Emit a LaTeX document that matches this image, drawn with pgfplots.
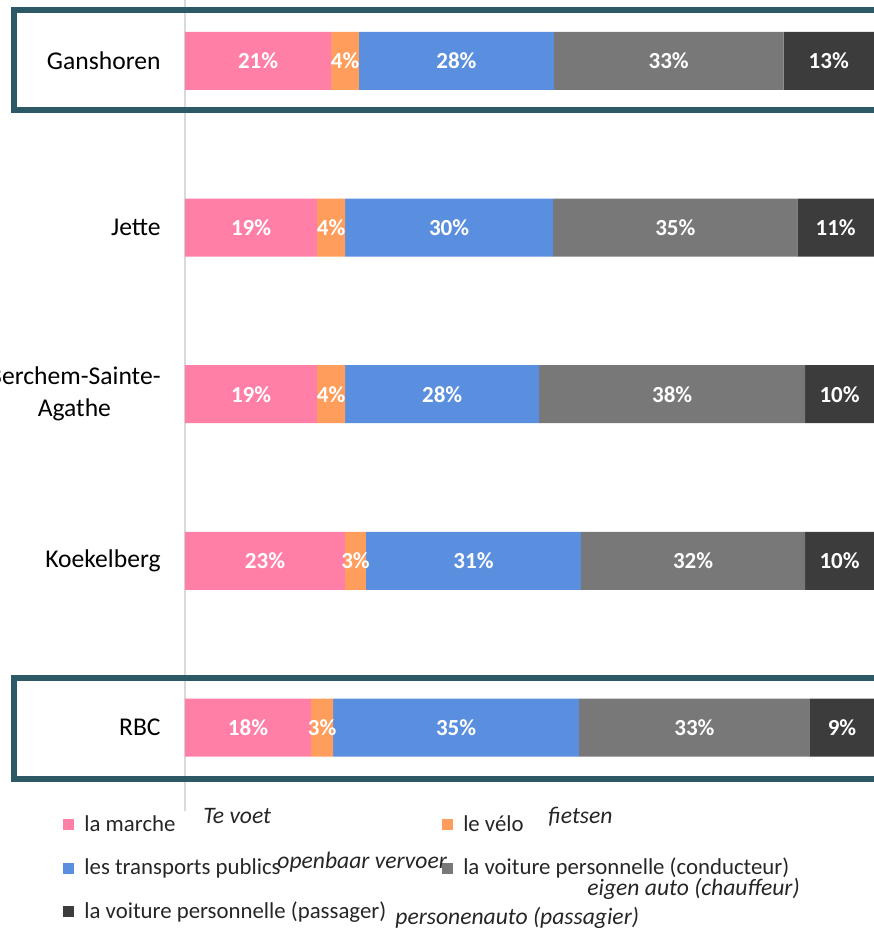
\documentclass[border=0pt]{standalone}
\usepackage{fontspec}
\setmainfont{Carlito}
\usepackage{pgfplots}
\pgfplotsset{compat=1.18}
\definecolor{cWalk}{HTML}{FF7FA7}
\definecolor{cBike}{HTML}{FF9D5C}
\definecolor{cPT}{HTML}{5A8FDF}
\definecolor{cDriver}{HTML}{787878}
\definecolor{cPass}{HTML}{3C3C3C}
\definecolor{cFrame}{HTML}{2D5866}
\definecolor{cAxis}{HTML}{D9D9D9}
\definecolor{cText}{HTML}{262626}

\begin{document}
\begin{tikzpicture}
\useasboundingbox (0,0) rectangle (437pt,472pt);
\begin{axis}[
  at={(92.5pt,66.5pt)}, anchor=south west,
  scale only axis, width=344.5pt, height=405.5pt,
  xbar stacked, bar width=29pt,
  xmin=0, xmax=99, ymin=-0.5, ymax=4.365,
  axis x line=none, axis y line*=left,
  y axis line style={draw=cAxis, line width=1pt, -},
  ytick={0,...,4},
  yticklabels={RBC,Koekelberg,{Berchem-Sainte-\\Agathe},Jette,Ganshoren},
  major tick length=0pt,
  yticklabel style={font=\fontsize{12.8}{16}\selectfont, align=center, inner sep=0pt, xshift=-12pt, text=black},
  visualization depends on={rawx \as \rawx},
  nodes near coords={\pgfmathprintnumber[fixed,precision=0,assume math mode=true]{\rawx}\%},
  every node near coord/.append style={font=\bfseries\fontsize{11.5}{13}\selectfont, text=white, anchor=center},
  every axis plot post/.append style={legend image code/.code={\fill[##1] (0pt,-2.75pt) rectangle (5.5pt,2.75pt);}},
  legend columns=2,
  legend cell align=left,
  legend style={at={(-0.177,0)}, anchor=north west, draw=none, fill=none, inner sep=0pt,
    font=\fontsize{11.4}{13}\selectfont, text=cText, row sep=8pt,
    /tikz/every odd column/.style={column sep=3pt},
    /tikz/column 2/.style={column sep=26pt}},
]
\addplot[fill=cWalk, draw=none] coordinates {(18.1,0) (23,1) (19,2) (19,3) (21,4)};
\addplot[fill=cBike, draw=none] coordinates {(3.2,0) (3,1) (4,2) (4,3) (4,4)};
\addplot[fill=cPT, draw=none] coordinates {(35.3,0) (30.9,1) (27.9,2) (29.9,3) (28,4)};
\addplot[fill=cDriver, draw=none] coordinates {(33.2,0) (32.2,1) (38.2,2) (35.1,3) (33,4)};
\addplot[fill=cPass, draw=none] coordinates {(9.2,0) (9.9,1) (9.9,2) (11,3) (13,4)};
\legend{la marche, le vélo, les transports publics, la voiture personnelle (conducteur), la voiture personnelle (passager)}
\end{axis}
\draw[cFrame, line width=3pt] (450pt,467pt) -- (7pt,467pt) -- (7pt,417pt) -- (450pt,417pt);
\draw[cFrame, line width=3pt] (450pt,133pt) -- (7pt,133pt) -- (7pt,82.5pt) -- (450pt,82.5pt);
\begin{scope}[every node/.style={anchor=west, inner sep=0pt, text=cText, font=\itshape\fontsize{11.8}{13}\selectfont}]
\node at (101.5pt,64pt) {Te voet};
\node at (274pt,63.5pt) {fietsen};
\node at (138.5pt,41pt) {openbaar vervoer};
\node at (293.5pt,27.5pt) {eigen auto (chauffeur)};
\node at (197.5pt,13pt) {personenauto (passagier)};
\end{scope}
\end{tikzpicture}
\end{document}
